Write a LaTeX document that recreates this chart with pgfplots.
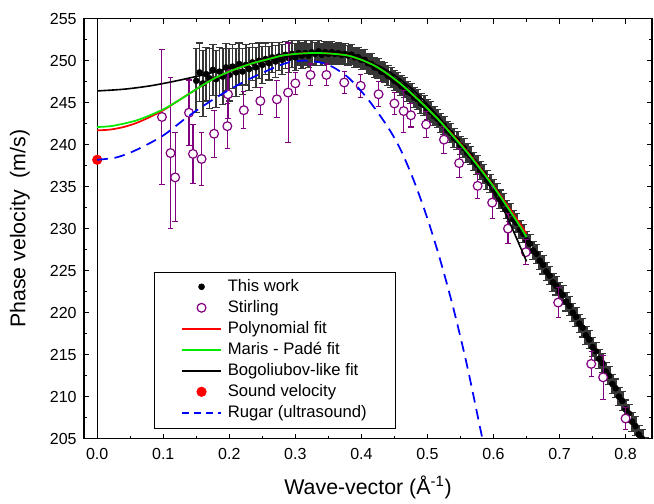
\documentclass[border=0pt]{standalone}
\usepackage{pgfplots}
\usepackage{pgfplotstable}
\pgfplotsset{compat=1.18}
\usepackage{fontspec}
\setmainfont{Liberation Sans}
\definecolor{stpurple}{RGB}{128,0,128}
\definecolor{fitgreen}{RGB}{0,235,0}
\definecolor{errgray}{RGB}{55,55,55}

\pgfplotstableread{
q v e
0.150 247.6 3.8
0.155 248.6 3.5
0.160 247.3 3.9
0.165 248.4 3.2
0.170 247.9 3.6
0.175 248.9 3.0
0.180 247.8 3.4
0.185 248.7 2.9
0.190 248.1 3.3
0.195 249.2 2.8
0.200 248.3 3.1
0.205 249.3 2.6
0.210 248.6 2.9
0.215 249.6 2.5
0.220 248.7 2.7
0.225 249.5 2.4
0.230 249.0 2.6
0.235 249.8 2.2
0.240 249.2 2.4
0.245 250.0 2.1
0.250 249.5 2.2
0.255 250.2 1.9
0.260 249.7 2.0
0.265 250.4 1.8
0.270 249.9 1.9
0.275 250.5 1.7
0.280 250.1 1.8
0.285 250.7 1.6
0.290 250.3 1.7
0.295 250.8 1.6
0.300 250.4 1.6
0.305 250.9 1.5
0.310 250.6 1.5
0.315 250.9 1.5
0.320 250.6 1.4
0.325 251.0 1.4
0.330 250.8 1.4
0.335 251.1 1.3
0.340 250.7 1.3
0.345 251.0 1.3
0.350 250.8 1.3
0.355 251.0 1.3
0.360 250.8 1.2
0.365 250.9 1.2
0.370 250.7 1.2
0.375 250.8 1.2
0.380 250.6 1.2
0.385 250.7 1.2
0.390 250.4 1.2
0.395 250.4 1.2
0.400 250.1 1.2
0.405 250.1 1.2
0.410 249.7 1.2
0.415 249.6 1.2
0.420 249.2 1.2
0.425 249.1 1.2
0.430 248.7 1.2
0.435 248.6 1.2
0.440 248.2 1.2
0.445 248.0 1.2
0.450 247.6 1.2
0.455 247.4 1.2
0.460 247.0 1.2
0.465 246.8 1.2
0.470 246.3 1.2
0.475 246.1 1.2
0.480 245.6 1.2
0.485 245.4 1.2
0.490 244.9 1.2
0.495 244.7 1.2
0.500 244.2 1.2
0.505 243.9 1.2
0.510 243.4 1.1
0.515 243.1 1.1
0.520 242.6 1.1
0.525 242.3 1.1
0.530 241.7 1.1
0.535 241.4 1.1
0.540 240.8 1.1
0.545 240.5 1.1
0.550 239.9 1.1
0.555 239.6 1.1
0.560 239.0 1.1
0.565 238.7 1.1
0.570 238.0 1.1
0.575 237.6 1.1
0.580 236.9 1.1
0.585 236.5 1.1
0.590 235.8 1.1
0.595 235.4 1.1
0.600 234.7 1.1
0.605 234.3 1.1
0.610 233.5 1.1
0.615 233.1 1.1
0.620 232.3 1.1
0.625 231.9 1.1
0.630 231.1 1.1
0.635 230.7 1.1
0.640 229.9 1.1
0.645 229.4 1.1
0.650 228.6 1.1
0.655 228.2 1.1
0.660 227.4 1.1
0.665 227.0 1.1
0.670 226.2 1.1
0.675 225.7 1.1
0.680 224.9 1.1
0.685 224.4 1.1
0.690 223.6 1.1
0.695 223.2 1.1
0.700 222.5 1.1
0.705 222.1 1.1
0.710 221.3 1.1
0.715 220.8 1.1
0.720 220.0 1.1
0.725 219.5 1.1
0.730 218.7 1.1
0.735 218.2 1.1
0.740 217.3 1.1
0.745 216.8 1.1
0.750 215.9 1.1
0.755 215.4 1.1
0.760 214.5 1.1
0.765 214.0 1.1
0.770 213.0 1.1
0.775 212.5 1.1
0.780 211.5 1.1
0.785 211.0 1.1
0.790 210.0 1.1
0.795 209.5 1.1
0.800 208.5 1.1
0.805 208.0 1.1
0.810 207.0 1.1
0.815 206.5 1.1
0.820 205.5 1.1
0.825 205.0 1.1
0.830 204.0 1.1
}\thiswork

\pgfplotstableread{
q v e
0.098 243.3 8.0
0.111 239.0 9.0
0.118 236.1 5.3
0.139 243.8 3.9
0.145 238.9 3.5
0.158 238.3 3.2
0.177 241.3 2.8
0.197 242.2 2.7
0.198 246.0 2.9
0.222 244.1 2.2
0.247 245.2 1.6
0.272 245.4 2.2
0.289 246.2 5.9
0.300 247.3 1.3
0.323 248.3 1.3
0.347 248.3 1.3
0.374 247.4 1.3
0.399 247.0 1.4
0.426 246.0 1.5
0.450 244.9 1.3
0.464 244.0 2.5
0.475 243.5 1.4
0.498 242.4 1.6
0.525 240.6 1.6
0.548 237.8 1.7
0.576 235.1 1.5
0.598 233.1 1.9
0.622 230.0 1.8
0.649 227.2 1.5
0.698 221.2 1.8
0.748 213.9 1.5
0.766 212.3 2.6
0.800 207.4 1.3
}\stirling

\pgfplotstableread{
q v
0.00 241.7
0.02 241.8
0.04 242.1
0.06 242.6
0.08 243.3
0.10 244.1
0.12 245.1
0.14 246.1
0.16 247.1
0.18 248.0
0.20 248.7
0.22 249.3
0.24 249.8
0.26 250.2
0.28 250.6
0.30 250.8
0.32 250.9
0.34 250.9
0.36 250.8
0.38 250.6
0.40 250.1
0.42 249.4
0.44 248.4
0.46 247.2
0.48 245.8
0.50 244.3
0.52 242.7
0.54 241.0
0.56 239.2
0.58 237.2
0.60 235.1
0.62 232.9
0.64 230.6
0.65 229.4
}\polyfit

\pgfplotstableread{
q v
0.00 242.1
0.02 242.2
0.04 242.5
0.06 242.9
0.08 243.5
0.10 244.2
0.12 245.1
0.14 246.1
0.16 247.1
0.18 248.0
0.20 248.7
0.22 249.3
0.24 249.8
0.26 250.2
0.28 250.6
0.30 250.8
0.32 250.9
0.34 250.9
0.36 250.8
0.38 250.6
0.40 250.1
0.42 249.4
0.44 248.4
0.46 247.2
0.48 245.8
0.50 244.3
0.52 242.7
0.54 240.9
0.56 239.1
0.58 237.1
0.60 235.0
0.62 232.7
0.64 230.3
0.65 229.0
}\padefit

\pgfplotstableread{
q v
0.00 246.4
0.04 246.6
0.08 247.0
0.12 247.6
0.16 248.3
0.20 249.1
0.24 249.8
0.28 250.4
0.32 250.8
0.36 250.8
0.40 250.2
0.44 248.8
0.48 246.4
0.52 243.0
0.55 240.0
0.58 236.8
0.60 234.3
0.62 231.5
0.65 226.1
}\bogfit

\pgfplotstableread{
q v
0.00 238.2
0.03 238.5
0.06 239.4
0.10 241.1
0.14 243.5
0.18 245.6
0.22 247.4
0.26 248.9
0.29 249.8
0.32 250.0
0.35 249.5
0.38 248.0
0.41 245.4
0.44 242.1
0.46 239.3
0.48 235.6
0.50 231.2
0.52 226.1
0.54 220.3
0.56 213.7
0.58 206.2
0.585 204.3
}\rugar

\begin{document}
\begin{tikzpicture}
\path (-63pt,-46.7pt) rectangle (427.5pt,329pt);
\begin{axis}[
  at={(0pt,0pt)}, anchor=south west,
  scale only axis, width=426pt, height=315pt,
  xmin=-0.02, xmax=0.84, ymin=205, ymax=255,
  clip marker paths=true,
  xtick={0,0.1,0.2,0.3,0.4,0.5,0.6,0.7,0.8},
  ytick={205,210,215,220,225,230,235,240,245,250,255},
  minor x tick num=1, minor y tick num=1,
  tick align=inside, major tick length=3.75pt, minor tick length=2.2pt,
  every tick/.style={black, line width=0.8pt},
  axis line style={line width=0.9pt},
  font=\fontsize{12}{14}\selectfont,
  /pgf/number format/assume math mode=true,
  xticklabel style={/pgf/number format/fixed, /pgf/number format/fixed zerofill, /pgf/number format/precision=1, yshift=-4pt},
  yticklabel style={xshift=-2pt},
  xlabel={Wave-vector (Å\textsuperscript{-1})},
  ylabel={Phase velocity~~(m/s)},
  label style={font=\fontsize{16}{19}\selectfont},
  xlabel style={at={(axis description cs:0.5,-0.117)}, anchor=center},
  ylabel style={at={(axis description cs:-0.113,0.5)}, anchor=center},
  legend style={at={(0.124,0.398)}, anchor=north west, font=\fontsize{12.5}{15}\selectfont,
    draw=black, inner xsep=20pt, inner ysep=4pt, row sep=1.25pt, column sep=3pt,
    nodes={inner xsep=1.5pt, inner ysep=1pt, text height=10pt, text depth=2.5pt}},
  legend cell align=left,
  legend image code/.code={\draw[mark repeat=2,mark phase=2,#1] plot coordinates {(0pt,0pt) (14.5pt,0pt) (29pt,0pt)};},
]
\addplot[black, line width=0.8pt, forget plot] coordinates {(0,205) (0,255)};

\addplot[only marks, mark=*, mark size=2.2pt, black, line width=0.5pt,
  restrict x to domain=0.1:0.3, forget plot,
  mark options={fill=black, draw=black},
  error bars/.cd, y dir=both, y explicit,
  error bar style={errgray, line width=1.3pt},
  error mark options={rotate=90, mark size=2.8pt, errgray, line width=0.8pt}]
  table[x=q, y=v, y error=e] {\thiswork};
\addplot[only marks, mark=*, mark size=2.2pt, black, line width=0.5pt,
  restrict x to domain=0.3:0.9,
  mark options={fill=black, draw=black},
  error bars/.cd, y dir=both, y explicit,
  error bar style={errgray, line width=2.4pt},
  error mark options={rotate=90, mark size=2.8pt, errgray, line width=0.8pt}]
  table[x=q, y=v, y error=e] {\thiswork};
\addlegendentry{This work}

\addplot[only marks, mark=*, mark size=3.3pt, stpurple, line width=0.9pt,
  mark options={fill=white, draw=stpurple},
  error bars/.cd, y dir=both, y explicit,
  error bar style={stpurple, line width=0.8pt},
  error mark options={rotate=90, mark size=2pt, stpurple, line width=0.8pt}]
  table[x=q, y=v, y error=e] {\stirling};
\addlegendentry{Stirling}

\addplot[black, line width=1.2pt, smooth, no marks, forget plot] table[x=q, y=v] {\bogfit};

\addplot[red, line width=1.3pt, smooth, no marks, legend image post style={line width=1.3pt}] table[x=q, y=v] {\polyfit};
\addlegendentry{Polynomial fit}

\addplot[fitgreen, line width=1.3pt, smooth, no marks, legend image post style={line width=1.3pt}] table[x=q, y=v] {\padefit};
\addlegendentry{Maris - Padé fit}

\addlegendimage{black, line width=1.2pt, no marks}
\addlegendentry{Bogoliubov-like fit}

\addplot[only marks, mark=*, mark size=3.6pt, red, mark options={fill=red, draw=red}] coordinates {(0,238.2)};
\addlegendentry{Sound velocity}

\addplot[blue, line width=1.3pt, dash pattern=on 8pt off 5pt, smooth, no marks, legend image post style={line width=1.3pt, dash pattern=on 5pt off 4pt}] table[x=q, y=v] {\rugar};
\addlegendentry{Rugar (ultrasound)}
\end{axis}
\end{tikzpicture}
\end{document}
